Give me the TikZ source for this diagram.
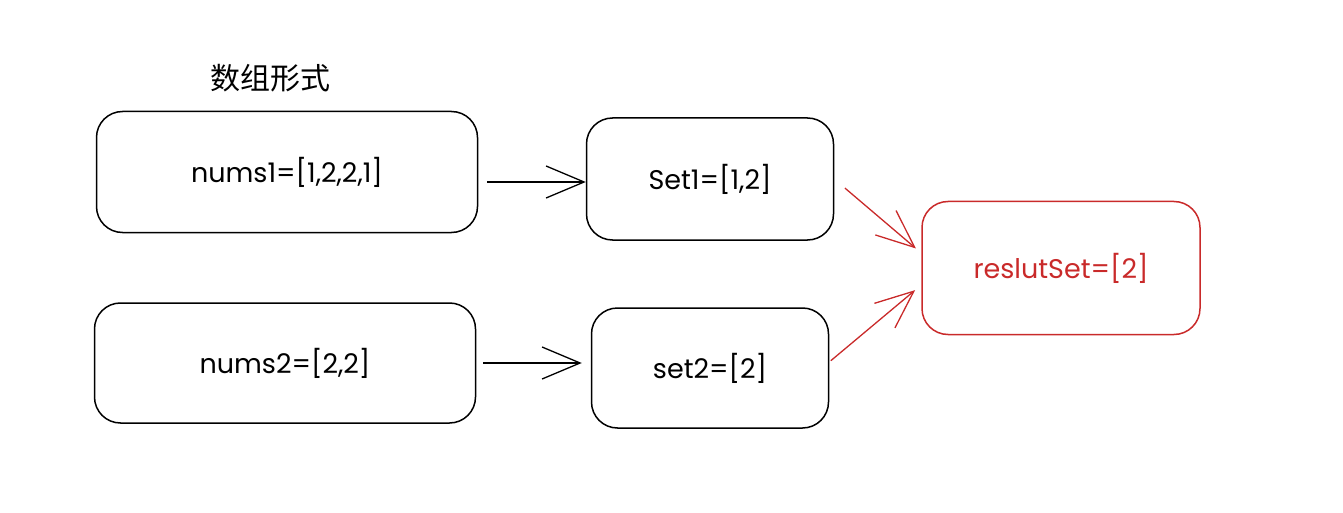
\documentclass[tikz,border=0pt]{standalone}
\usepackage{fontspec}
\setmainfont{Poppins}
\newfontfamily\cjk{Noto Sans CJK SC}
\usepackage{tikz}
\usetikzlibrary{arrows.meta}

\definecolor{sketchred}{RGB}{201,42,42}

\begin{document}
\begin{tikzpicture}[x=1pt, y=-1pt, node distance=423pt, line width=1.5pt]
      \tikzstyle{line} = [draw=black, line width=1.3pt, -{Straight Barb[length=38pt, width=32pt]}]
      \tikzstyle{main node} = [rectangle, rounded corners=26pt, draw, align=center,
         font=\fontsize{27}{31}\selectfont] %sketch boxes
      \useasboundingbox (0,0) rectangle (1343,513);
      %nodes
      \node[font=\cjk\fontsize{30}{34}\selectfont] (title) at (270,78) {数组形式};
      \node[main node, minimum width=381pt, minimum height=121pt] (nums1) at (287,172) {nums1=[1,2,2,1]};
      \node[main node, minimum width=247pt, minimum height=122pt] (set1) [right of=nums1, yshift=-7pt] {Set1=[1,2]};
      \node[main node, minimum width=381pt, minimum height=120pt] (nums2) at (285,363) {nums2=[2,2]};
      \node[main node, minimum width=237pt, minimum height=120pt] (set2) [right of=nums2, xshift=2pt, yshift=-5pt] {set2=[2]};
      \node[main node, draw=sketchred, text=sketchred, minimum width=278pt, minimum height=133pt] (result)
         [right of=set1, xshift=-72pt, yshift=-89pt] {reslutSet=[2]};

      %lines
      \draw [line, shorten <=9pt] ([yshift=-3pt]nums1.east |- set1.west) -- ([yshift=-3pt]set1.west);
      \draw [line, shorten <=7pt, shorten >=9pt] (nums2.east) -- (nums2.east -| set2.west);
      \draw [line, draw=sketchred, shorten <=14pt, shorten >=7pt] (set1.east) -- ([yshift=15pt]result.west);
      \draw [line, draw=sketchred, shorten <=2pt, shorten >=8pt] ([yshift=6pt]set2.east) -- ([yshift=-17pt]result.west);
    \end{tikzpicture}
\end{document}
